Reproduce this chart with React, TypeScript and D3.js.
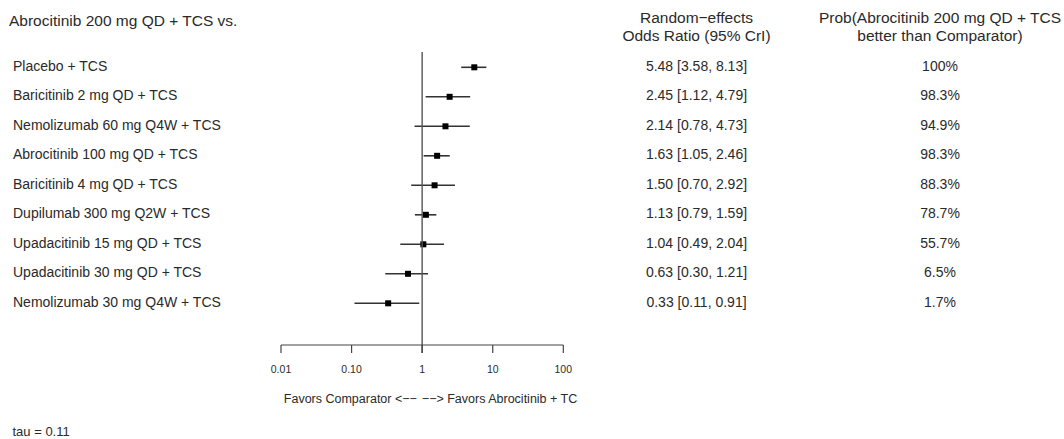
import * as d3 from "d3"
import React from "react"

// comparators, top to bottom
const comparators = [
    "Placebo + TCS",
    "Baricitinib 2 mg QD + TCS",
    "Nemolizumab 60 mg Q4W + TCS",
    "Abrocitinib 100 mg QD + TCS",
    "Baricitinib 4 mg QD + TCS",
    "Dupilumab 300 mg Q2W + TCS",
    "Upadacitinib 15 mg QD + TCS",
    "Upadacitinib 30 mg QD + TCS",
    "Nemolizumab 30 mg Q4W + TCS",
]
const oddsRatio = [5.48, 2.45, 2.14, 1.63, 1.50, 1.13, 1.04, 0.63, 0.33]
const lowerCrI = [3.58, 1.12, 0.78, 1.05, 0.70, 0.79, 0.49, 0.30, 0.11]
const upperCrI = [8.13, 4.79, 4.73, 2.46, 2.92, 1.59, 2.04, 1.21, 0.91]
const probBetter = ["100%", "98.3%", "94.9%", "98.3%", "88.3%", "78.7%", "55.7%", "6.5%", "1.7%"]
const tickValues = [0.01, 0.1, 1, 10, 100]
const tickLabels = ["0.01", "0.10", "1", "10", "100"]

const font = "'Liberation Sans', Arial, sans-serif"
const textColor = "#2a2a2a"

const App = () => {
    /**
     * Forest plot of odds ratios, Abrocitinib 200 mg QD + TCS vs. comparators.
     */
    const width = 1064
    const height = 439

    const scaleX = d3.scaleLog().domain([0.01, 100]).range([281, 563.3])
    const scaleY = d3.scalePoint<string>().domain(comparators).range([67.3, 303.3])
    const axisY = 345
    const tickLen = 8
    const col1 = 696.5
    const col2 = 940
    const fmt = (v: number) => v.toFixed(2)

    return (
        <svg width={width} height={height}
             style={{position: "absolute", left: 0, top: 0, background: "#fff"}}
             fontFamily={font}>
            <defs>
                <clipPath id="caption-clip">
                    <rect x={0} y={380} width={578} height={40} />
                </clipPath>
            </defs>

            {/* Headers */}
            <text x={9} y={20} fontSize={15.5} fill={textColor} dominantBaseline="central">
                Abrocitinib 200 mg QD + TCS vs.
            </text>
            <g fontSize={15.5} fill={textColor} textAnchor="middle" dominantBaseline="central">
                <text x={col1} y={17}>Random−effects</text>
                <text x={col1} y={35}>Odds Ratio (95% CrI)</text>
                <text x={col2} y={17}>Prob(Abrocitinib 200 mg QD + TCS</text>
                <text x={col2} y={35}>better than Comparator)</text>
            </g>

            {/* Rows */}
            {comparators.map((c, i) => {
                const y = scaleY(c) as number
                return (
                    <g key={c}>
                        <text x={13} y={y - 1.5} fontSize={14} fill={textColor} dominantBaseline="central">{c}</text>
                        <line x1={scaleX(lowerCrI[i])} x2={scaleX(upperCrI[i])} y1={y} y2={y}
                              stroke="#333" strokeWidth={1.6} />
                        <rect x={scaleX(oddsRatio[i]) - 3} y={y - 3} width={6} height={6} fill="#000" />
                        <text x={col1} y={y - 1.5} fontSize={14} fill={textColor} textAnchor="middle"
                              dominantBaseline="central">
                            {`${fmt(oddsRatio[i])} [${fmt(lowerCrI[i])}, ${fmt(upperCrI[i])}]`}
                        </text>
                        <text x={col2} y={y - 1.5} fontSize={14} fill={textColor} textAnchor="middle"
                              dominantBaseline="central">{probBetter[i]}</text>
                    </g>
                )
            })}

            {/* Line of no effect */}
            <line x1={scaleX(1)} x2={scaleX(1)} y1={52} y2={axisY + tickLen} stroke="#555" strokeWidth={1.4} />

            {/* X axis */}
            <line x1={scaleX(0.01)} x2={scaleX(100)} y1={axisY} y2={axisY} stroke="#444" strokeWidth={1.2} />
            {tickValues.map((t, i) => (
                <g key={t}>
                    <line x1={scaleX(t)} x2={scaleX(t)} y1={axisY} y2={axisY + tickLen} stroke="#444" strokeWidth={1.2} />
                    <text x={scaleX(t)} y={369} fontSize={10.5} fill={textColor} textAnchor="middle"
                          dominantBaseline="central">{tickLabels[i]}</text>
                </g>
            ))}

            {/* Caption */}
            <g clipPath="url(#caption-clip)" fontSize={12.5} fill={textColor} dominantBaseline="central">
                <text x={scaleX(1) - 5.3} y={399} textAnchor="end">Favors Comparator &lt;−−</text>
                <text x={scaleX(1) - 0.3} y={399}>−−&gt; Favors Abrocitinib + TCS</text>
            </g>

            <text x={12.5} y={431} fontSize={13} fill={textColor} dominantBaseline="central">tau = 0.11</text>
        </svg>
    )
}

export default App
